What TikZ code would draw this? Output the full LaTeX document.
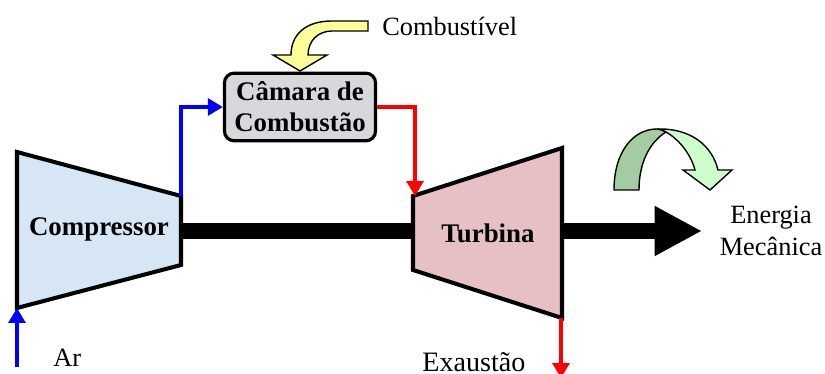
\documentclass[tikz,border=0pt]{standalone}
\usepackage{fontspec}
\setmainfont{Liberation Serif}
\usepackage{xcolor}
\usetikzlibrary{arrows.meta}
\definecolor{compblue}{HTML}{D6E6F5}
\definecolor{turbpink}{HTML}{E6C0C4}
\definecolor{boxgray}{HTML}{D6D8DC}
\definecolor{fuelyellow}{HTML}{FFFF99}
\definecolor{rotdark}{HTML}{A3CCA3}
\definecolor{rotlight}{HTML}{CCFFCC}
\tikzset{
  label text/.style={font=\fontsize{15}{18}\selectfont,align=center},
  bold text/.style={font=\fontsize{15.3}{17.6}\selectfont\bfseries,align=center},
  machine/.style={draw=black,line width=2.3pt,line join=miter},
  flow/.style={line width=2.2pt,-{Triangle[length=8.5pt,width=9.5pt]}},
  shaft/.style={line width=9pt,black},
  curved/.style={draw=black,line width=0.8pt,line join=miter},
}

\begin{document}
\begin{tikzpicture}[x=0.02cm,y=-0.02cm]
\useasboundingbox (0,0) rectangle (825,374);

% Ports
\coordinate (shaftin) at (181,231);
\coordinate (shaftout) at (413,231);
\coordinate (turbout) at (562,231);
\coordinate (shaftend) at (702,231);
\coordinate (arstart) at (17,367);
\coordinate (arend) at (17,308);
\coordinate (compout) at (181,196);
\coordinate (turbin) at (415,196);
\coordinate (exhstart) at (561,318);
\coordinate (exhend) at (561,378);

% Shaft
\draw[shaft] (shaftin) -- (shaftout);
\draw[shaft,-{Triangle[length=27pt,width=26.6pt]}] (turbout) -- (shaftend);

% Compressor
\filldraw[machine,fill=compblue] (17,152) -- (181,196) -- (181,265) -- (17,308) -- cycle;
\node[bold text] (compressor) at (99,229) {Compressor};

% Turbine
\filldraw[machine,fill=turbpink] (413,196) -- (562,148) -- (562,318) -- (413,270) -- cycle;
\node[bold text] (turbina) at (488,233) {Turbina};

% Combustion chamber
\node[bold text,draw=black,line width=1.8pt,fill=boxgray,rounded corners=5.5pt,
  minimum width=86pt,minimum height=38.5pt,inner sep=0pt] (camara) at (300,107)
  {Câmara de\\Combustão};

% Gas lines
\draw[flow,blue] (compout) |- (camara.west);
\draw[flow,red] (camara.east) -| (turbin);
\draw[flow,blue] (arstart) -- (arend);
\draw[flow,red] (exhstart) -- (exhend);

% Fuel arrow
\filldraw[curved,fill=fuelyellow] (368,21) -- (332,21) .. controls (305,21) and (291,35) .. (291,55)
  -- (273,55) -- (300,71) -- (327,55) -- (308,55)
  .. controls (308,41) and (318,31) .. (332,31) -- (368,31) -- cycle;

% Rotation arrow
\filldraw[curved,fill=rotdark] (614,190) .. controls (614,152) and (633,129) .. (657,129)
  .. controls (660,129) and (663,130) .. (666,132)
  .. controls (650,142) and (639,162) .. (639,190) -- cycle;
\filldraw[curved,fill=rotlight] (657,129) .. controls (690,128) and (712,145) .. (718,170)
  -- (732,170) -- (710,190) -- (683,170) -- (695,170)
  .. controls (691,155) and (680,140) .. (666,132)
  .. controls (663,130) and (660,129) .. (657,129) -- cycle;

% Labels
\node[label text,right,inner sep=0pt] (fuel) at (382,26) {Combustível};
\node[label text,right,inner sep=0pt] (ar) at (53,358) {Ar};
\node[anchor=west,inner sep=0pt,font=\fontsize{16}{18}\selectfont] (exaustao) at (422,362) {Exaustão};
\node[label text] (energia) at (771,231) {Energia\\Mecânica};
\end{tikzpicture}
\end{document}
